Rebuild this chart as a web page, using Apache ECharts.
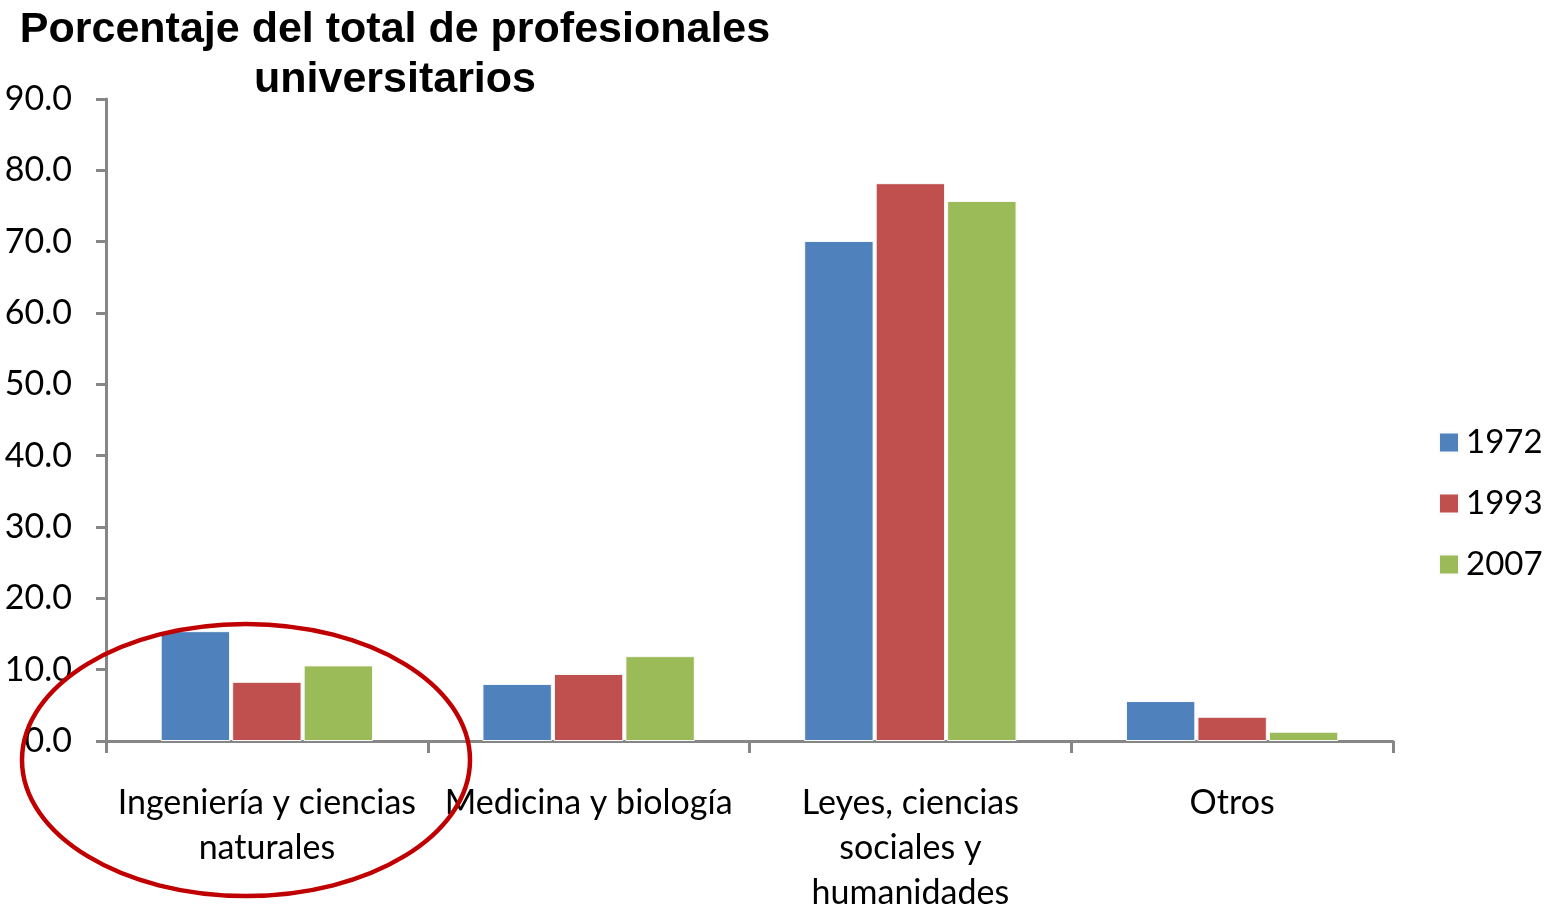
<!DOCTYPE html>
<html>
<head>
<meta charset="utf-8">
<script src="https://cdn.jsdelivr.net/npm/echarts@6/dist/echarts.min.js"></script>
<style>
  html, body { margin: 0; padding: 0; background: #fff; }
  #chart { width: 1556px; height: 916px; }
</style>
</head>
<body>
<div id="chart"></div>
<script>
var categories = ['Ingeniería y ciencias\nnaturales', 'Medicina y biología', 'Leyes, ciencias\nsociales y\nhumanidades', 'Otros'];
var years = ['1972', '1993', '2007'];
var values1972 = [15.4, 8.0, 70.1, 5.6];
var values1993 = [8.3, 9.4, 78.2, 3.4];
var values2007 = [10.6, 11.9, 75.7, 1.3];
var colors = ['#4F81BD', '#C0504D', '#9BBB59'];

var chart = echarts.init(document.getElementById('chart'));
var fontFam = 'Lato, "Open Sans", sans-serif';

function bar(name, data, color) {
	return {
		name: name,
		type: 'bar',
		data: data,
		barGap: '3%',
		barCategoryGap: '34%',
		itemStyle: { color: color, borderColor: '#fafafa', borderWidth: 1 }
	};
}

var option = {
	animation: false,
	title: {
		text: 'Porcentaje del total de profesionales\nuniversitarios',
		left: 390,
		top: 0,
		textAlign: 'center',
		textStyle: {
			fontFamily: '"Liberation Sans", Arial, sans-serif',
			fontWeight: 'bold',
			fontSize: 43,
			lineHeight: 50,
			color: '#000'
		}
	},
	legend: {
		orient: 'vertical',
		left: 1433,
		top: 421,
		itemWidth: 20,
		itemHeight: 20,
		itemGap: 28,
		icon: 'rect',
		data: years,
		textStyle: { fontFamily: fontFam, fontSize: 33, color: '#000', padding: [0, 0, 0, 2] }
	},
	grid: { left: 106, right: 163, top: 99, bottom: 175, containLabel: false },
	xAxis: {
		type: 'category',
		data: categories,
		axisLine: { lineStyle: { color: '#868686', width: 3 } },
		axisTick: { show: true, length: 12, lineStyle: { color: '#868686', width: 3 } },
		axisLabel: {
			interval: 0,
			margin: 40,
			fontFamily: fontFam,
			fontSize: 34,
			lineHeight: 45,
			color: '#000'
		}
	},
	yAxis: {
		type: 'value',
		min: 0,
		max: 90,
		interval: 10,
		splitLine: { show: false },
		axisLine: { show: true, lineStyle: { color: '#868686', width: 3 } },
		axisTick: { show: true, length: 10, lineStyle: { color: '#868686', width: 3 } },
		axisLabel: {
			margin: 34,
			fontFamily: fontFam,
			fontSize: 34,
			color: '#000',
			formatter: function (v) { return v.toFixed(1); }
		}
	},
	series: [
		bar('1972', values1972, colors[0]),
		bar('1993', values1993, colors[1]),
		bar('2007', values2007, colors[2])
	],
	graphic: [{
		type: 'ellipse',
		shape: { cx: 246, cy: 760, rx: 224, ry: 136 },
		style: { fill: 'none', stroke: '#C00000', lineWidth: 4.5 },
		z: 100
	}]
};
chart.setOption(option);
</script>
</body>
</html>
